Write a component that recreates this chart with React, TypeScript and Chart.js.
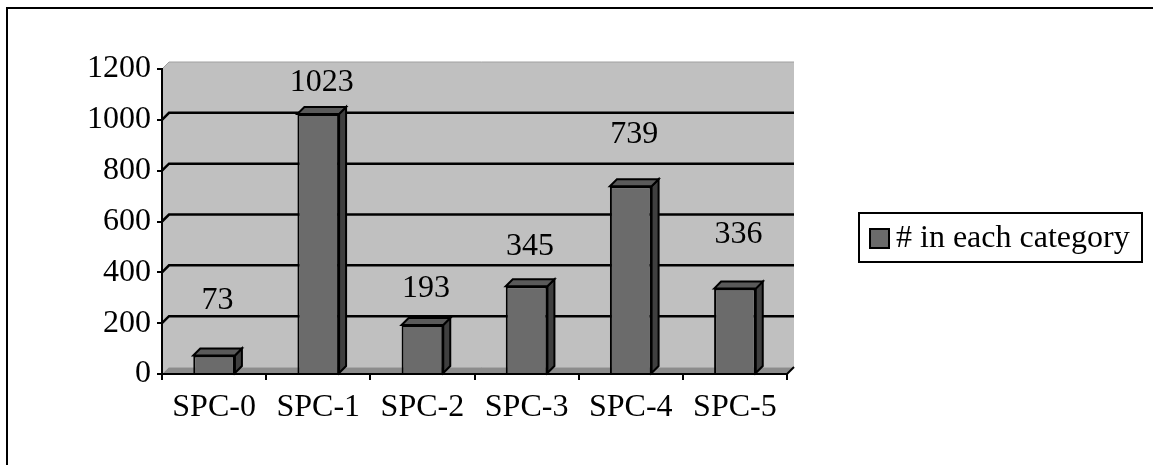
import React, { useEffect, useRef } from "react";
import { Chart, registerables } from "chart.js";

Chart.register(...registerables);

// ---- data ----
const categories = ["SPC-0", "SPC-1", "SPC-2", "SPC-3", "SPC-4", "SPC-5"];
const counts = [73, 1023, 193, 345, 739, 336];
const seriesLabel = "# in each category";
const yMin = 0;
const yMax = 1200;
const yStep = 200;

// ---- styles ----
const FONT = "'Liberation Serif', 'Times New Roman', serif";
const FONT_SIZE = 32;
const DEPTH = 7;
const LABEL_LIFT = [55, 31, 36, 40, 52, 54];
const FRONT = "#6B6B6B";
const TOP = "#5A5A5A";
const SIDE = "#3F3F3F";
const WALL = "#C0C0C0";
const FLOOR = "#8C8C8C";

const threeD = {
  id: "threeD",
  beforeDraw(chart: any) {
    const { ctx, chartArea } = chart;
    const { left, right, top, bottom } = chartArea;
    const ys = chart.scales.y;
    const d = DEPTH;
    ctx.save();
    ctx.fillStyle = WALL;
    ctx.beginPath();
    ctx.moveTo(left + d, top - d);
    ctx.lineTo(right + d, top - d);
    ctx.lineTo(right + d, bottom - d);
    ctx.lineTo(left + d, bottom - d);
    ctx.closePath();
    ctx.fill();
    ctx.beginPath();
    ctx.moveTo(left, top);
    ctx.lineTo(left + d, top - d);
    ctx.lineTo(left + d, bottom - d);
    ctx.lineTo(left, bottom);
    ctx.closePath();
    ctx.fill();
    ctx.strokeStyle = "#A0A0A0";
    ctx.lineWidth = 1;
    ctx.beginPath();
    ctx.moveTo(left, top);
    ctx.lineTo(left + d, top - d);
    ctx.lineTo(right + d, top - d);
    ctx.stroke();
    ctx.fillStyle = FLOOR;
    ctx.beginPath();
    ctx.moveTo(left, bottom);
    ctx.lineTo(left + d, bottom - d);
    ctx.lineTo(right + d, bottom - d);
    ctx.lineTo(right, bottom);
    ctx.closePath();
    ctx.fill();
    ctx.strokeStyle = "#A8A8A8";
    ctx.beginPath();
    ctx.moveTo(left + d, bottom - d + 0.5);
    ctx.lineTo(right + d, bottom - d + 0.5);
    ctx.stroke();
    ctx.strokeStyle = "#000";
    ctx.lineWidth = 2;
    ctx.beginPath();
    ctx.moveTo(right, bottom);
    ctx.lineTo(right + d, bottom - d);
    ctx.stroke();
    ctx.lineWidth = 2.5;
    for (let v = yMin + yStep; v < yMax; v += yStep) {
      const yy = ys.getPixelForValue(v);
      ctx.beginPath();
      ctx.moveTo(left, yy);
      ctx.lineTo(left + d, yy - d);
      ctx.lineTo(right + d, yy - d);
      ctx.stroke();
    }
    ctx.restore();
  },
  afterDatasetsDraw(chart: any) {
    const { ctx } = chart;
    const meta = chart.getDatasetMeta(0);
    const d = DEPTH;
    ctx.save();
    ctx.lineWidth = 2;
    ctx.strokeStyle = "#000";
    meta.data.forEach((bar: any, i: number) => {
      const { x, y, base, width } = bar.getProps(["x", "y", "base", "width"], true);
      const L = x - width / 2;
      const R = x + width / 2;
      ctx.fillStyle = SIDE;
      ctx.beginPath();
      ctx.moveTo(R, y);
      ctx.lineTo(R + d, y - d);
      ctx.lineTo(R + d, base - d);
      ctx.lineTo(R, base);
      ctx.closePath();
      ctx.fill();
      ctx.stroke();
      ctx.fillStyle = TOP;
      ctx.beginPath();
      ctx.moveTo(L, y);
      ctx.lineTo(L + d, y - d);
      ctx.lineTo(R + d, y - d);
      ctx.lineTo(R, y);
      ctx.closePath();
      ctx.fill();
      ctx.stroke();
      ctx.fillStyle = "#000";
      ctx.font = `${FONT_SIZE}px ${FONT}`;
      ctx.textAlign = "center";
      ctx.textBaseline = "middle";
      ctx.fillText(String(counts[i]), x + d / 2, y - LABEL_LIFT[i]);
    });
    ctx.restore();
  },
  afterDraw(chart: any) {
    const { ctx } = chart;
    ctx.save();
    ctx.fillStyle = "#000";
    ctx.fillRect(6, 7, chart.width, 2);
    ctx.fillRect(6, 7, 2, chart.height);
    const bx = 859, by = 213, bw = 283, bh = 49;
    ctx.fillStyle = "#fff";
    ctx.fillRect(bx, by, bw, bh);
    ctx.strokeStyle = "#000";
    ctx.lineWidth = 2;
    ctx.strokeRect(bx, by, bw, bh);
    ctx.fillStyle = FRONT;
    ctx.fillRect(870, 229, 19, 19);
    ctx.strokeRect(870, 229, 19, 19);
    ctx.fillStyle = "#000";
    ctx.font = `${FONT_SIZE}px ${FONT}`;
    ctx.textAlign = "left";
    ctx.textBaseline = "middle";
    ctx.fillText(chart.data.datasets[0].label, 896, 239);
    ctx.restore();
  },
};

export default function App() {
  const ref = useRef<HTMLCanvasElement | null>(null);
  useEffect(() => {
    if (!ref.current) return;
    const chart = new Chart(ref.current, {
      type: "bar",
      data: {
        labels: categories,
        datasets: [
          {
            label: seriesLabel,
            data: counts,
            backgroundColor: FRONT,
            borderColor: "#000",
            borderWidth: 2,
            categoryPercentage: 1,
            barPercentage: 0.4,
          },
        ],
      },
      options: {
        responsive: false,
        animation: false,
        devicePixelRatio: 1,
        layout: { padding: { top: 69, bottom: 31, left: 0, right: 366 } },
        plugins: {
          legend: { display: false },
          tooltip: { enabled: false },
        },
        scales: {
          x: {
            afterFit: (s: any) => {
              s.height = 60;
            },
            grid: {
              drawOnChartArea: false,
              drawTicks: true,
              tickLength: 6,
              tickColor: "#000",
              tickWidth: 2,
              color: "#000",
              lineWidth: 2,
            },
            border: { display: true, color: "#000", width: 2 },
            ticks: {
              color: "#000",
              padding: 8,
              font: { family: FONT, size: FONT_SIZE },
              maxRotation: 0,
              autoSkip: false,
            },
          },
          y: {
            min: yMin,
            max: yMax,
            afterFit: (s: any) => {
              s.width = 162;
            },
            grid: {
              drawOnChartArea: false,
              drawTicks: true,
              tickLength: 5,
              tickColor: "#000",
              tickWidth: 2,
              color: "#000",
              lineWidth: 2,
            },
            border: { display: true, color: "#000", width: 2 },
            ticks: {
              stepSize: yStep,
              color: "#000",
              padding: 6,
              font: { family: FONT, size: FONT_SIZE },
              callback: (v: any) => String(v),
            },
          },
        },
      },
      plugins: [threeD],
    });
    return () => chart.destroy();
  }, []);
  return (
    <div style={{ position: "absolute", left: 0, top: 0, width: 1153, height: 465 }}>
      <canvas ref={ref} width={1153} height={465} />
    </div>
  );
}
